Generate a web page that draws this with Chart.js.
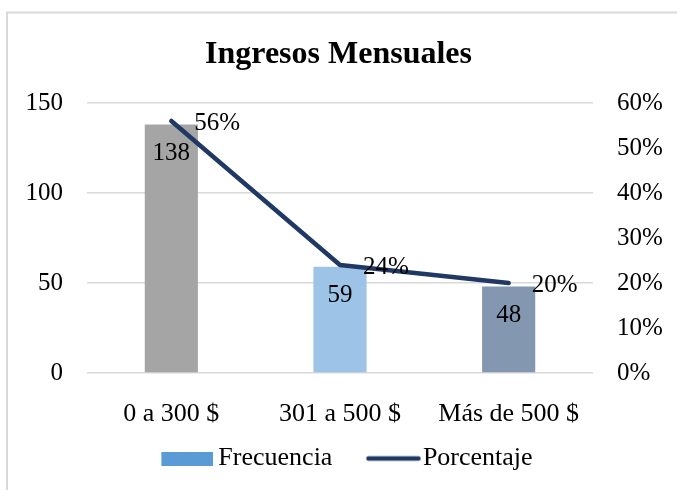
<!DOCTYPE html>
<html>
<head>
<meta charset="utf-8">
<style>
  html, body { margin: 0; padding: 0; background: #ffffff; }
  #wrap { width: 677px; height: 490px; position: relative; }
</style>
<script src="https://cdn.jsdelivr.net/npm/chart.js@4/dist/chart.umd.min.js"></script>
</head>
<body>
<div id="wrap"><canvas id="chart" width="677" height="490"></canvas></div>
<script>
// Monthly income ranges: frequency (bars, left axis) and share (line, right axis)
const categories = ['0 a 300 $', '301 a 500 $', 'Más de 500 $'];
const frecuencia = [138, 59, 48];
const porcentaje = [56, 24, 20];
const barColors = ['#A5A5A5', '#9DC3E6', '#8497B0'];
const leftTicks = [0, 50, 100, 150];
const rightTicks = [0, 10, 20, 30, 40, 50, 60];

const SERIF = "'Liberation Serif', 'Times New Roman', serif";
const NAVY = '#203864';
const LEGEND_BLUE = '#5B9BD5';

// Legend swatches. Each canvas is centred on its legend box, so the drawn
// part is placed towards the right to sit close to the label text.
function barSwatch() {
  const c = document.createElement('canvas');
  c.width = 77; c.height = 14;
  const g = c.getContext('2d');
  g.fillStyle = LEGEND_BLUE;
  g.fillRect(25, 0, 52, 14);
  return c;
}
function lineSwatch() {
  const c = document.createElement('canvas');
  c.width = 83; c.height = 14;
  const g = c.getContext('2d');
  g.strokeStyle = NAVY;
  g.lineWidth = 4.5;
  g.lineCap = 'round';
  g.beginPath();
  g.moveTo(30.5, 7); g.lineTo(80.5, 7);
  g.stroke();
  return c;
}
const swatches = [barSwatch(), lineSwatch()];

// Light frame along the top and left edges, on a white background
const framePlugin = {
  id: 'frame',
  beforeDraw(chart) {
    const ctx = chart.ctx;
    ctx.save();
    ctx.fillStyle = '#ffffff';
    ctx.fillRect(0, 0, chart.width, chart.height);
    ctx.strokeStyle = '#D9D9D9';
    ctx.lineWidth = 2;
    ctx.beginPath();
    ctx.moveTo(7, chart.height);
    ctx.lineTo(7, 12.5);
    ctx.lineTo(chart.width, 12.5);
    ctx.stroke();
    ctx.restore();
  }
};

// Value labels: counts inside the top of each bar, percentages right of each line point
const valueLabels = {
  id: 'valueLabels',
  afterDatasetsDraw(chart) {
    const ctx = chart.ctx;
    ctx.save();
    ctx.fillStyle = '#000000';
    ctx.font = '25px ' + SERIF;
    ctx.textBaseline = 'middle';
    const barMeta = chart.getDatasetMeta(0);
    ctx.textAlign = 'center';
    barMeta.data.forEach((el, i) => {
      ctx.fillText(String(frecuencia[i]), el.x, el.y + 29);
    });
    const lineMeta = chart.getDatasetMeta(1);
    ctx.textAlign = 'left';
    lineMeta.data.forEach((el, i) => {
      ctx.fillText(porcentaje[i] + '%', el.x + 23, el.y + 2);
    });
    ctx.restore();
  }
};

new Chart(document.getElementById('chart'), {
  type: 'bar',
  data: {
    labels: categories,
    datasets: [
      {
        type: 'bar',
        label: 'Frecuencia',
        data: frecuencia,
        backgroundColor: barColors,
        borderWidth: 0,
        categoryPercentage: 1,
        barPercentage: 0.315,
        yAxisID: 'y',
        order: 2
      },
      {
        type: 'line',
        label: 'Porcentaje',
        data: porcentaje,
        borderColor: NAVY,
        backgroundColor: NAVY,
        borderWidth: 4.5,
        borderCapStyle: 'round',
        borderJoinStyle: 'round',
        pointRadius: 0,
        pointHoverRadius: 0,
        tension: 0,
        fill: false,
        yAxisID: 'y1',
        order: 1
      }
    ]
  },
  options: {
    responsive: false,
    animation: false,
    devicePixelRatio: 1,
    layout: { padding: { left: 0, right: 0, top: 35.8, bottom: 8.5 } },
    plugins: {
      title: {
        display: true,
        text: 'Ingresos Mensuales',
        color: '#000000',
        font: { family: SERIF, size: 32, weight: 'bold', lineHeight: 1.2 },
        padding: { top: 0, bottom: 28.8 }
      },
      legend: {
        position: 'bottom',
        labels: {
          usePointStyle: true,
          pointStyleWidth: 61,
          boxHeight: 14,
          padding: 16.5,
          color: '#000000',
          font: { family: SERIF, size: 26 },
          generateLabels(chart) {
            return chart.data.datasets.map((ds, i) => ({
              text: ds.label,
              pointStyle: swatches[i],
              fillStyle: 'transparent',
              strokeStyle: 'transparent',
              lineWidth: 0,
              hidden: false,
              datasetIndex: i
            }));
          }
        }
      },
      tooltip: { enabled: false }
    },
    scales: {
      x: {
        offset: true,
        grid: { display: false },
        border: { display: false },
        ticks: { color: '#000000', font: { family: SERIF, size: 26 }, padding: 18 },
        afterFit(scale) { scale.height = 56; }
      },
      y: {
        position: 'left',
        min: 0,
        max: 150,
        afterBuildTicks(scale) { scale.ticks = leftTicks.map(v => ({ value: v })); },
        grid: { color: '#D9D9D9', lineWidth: 1.5, drawTicks: false },
        border: { display: false },
        ticks: { color: '#000000', font: { family: SERIF, size: 25 }, padding: 24 },
        afterFit(scale) { scale.width = 87; }
      },
      y1: {
        position: 'right',
        min: 0,
        max: 60,
        afterBuildTicks(scale) { scale.ticks = rightTicks.map(v => ({ value: v })); },
        grid: { display: false, drawTicks: false },
        border: { display: false },
        ticks: {
          color: '#000000',
          font: { family: SERIF, size: 25 },
          padding: 24,
          callback: v => v + '%'
        },
        afterFit(scale) { scale.width = 84; }
      }
    }
  },
  plugins: [framePlugin, valueLabels]
});
</script>
</body>
</html>
